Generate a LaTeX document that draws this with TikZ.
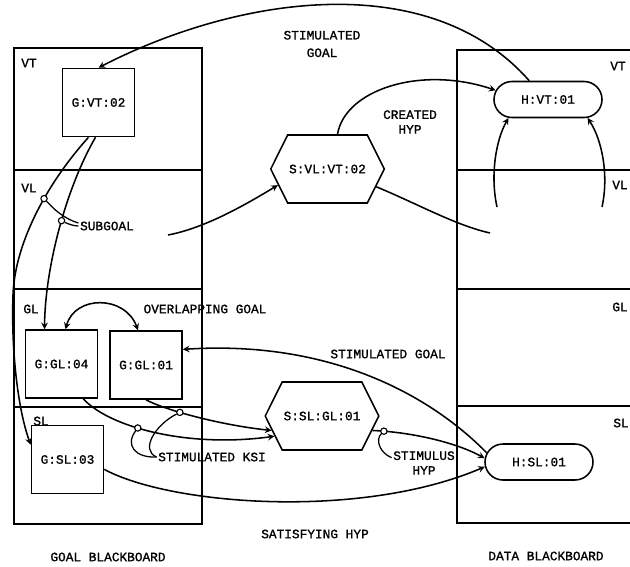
\documentclass[tikz,border=0pt]{standalone}
\usepackage{fontspec}
\setmonofont{Liberation Mono}[FakeBold=1.2]
\usetikzlibrary{calc,shapes.misc,shapes.symbols}

\begin{document}
\begin{tikzpicture}[x=0.025cm, y=-0.025cm,
    every node/.style={font=\ttfamily\fontsize{9.1}{10.5}\selectfont, inner sep=1pt},
    board/.style={line width=1.2pt},
    goalbox/.style={draw, line width=1.1pt, minimum width=1.8cm, minimum height=1.7cm},
    ksbox/.style={draw, line width=1.1pt, signal, signal to=west and east,
      signal pointer angle=127, minimum width=2.73cm, minimum height=1.7cm},
    hypbox/.style={draw, line width=1.1pt, rounded rectangle,
      minimum width=2.77cm, minimum height=0.9cm},
    conn/.style={line width=1.1pt, -stealth},
    leader/.style={line width=0.9pt},
    hook/.style={circle, draw, fill=white, line width=0.8pt, inner sep=0pt, minimum size=4.5pt}]

  \useasboundingbox (0,0) rectangle (630,566);

  % Goal blackboard
  \draw[board] (14,48) rectangle (202,524);
  \draw[board] (14,170) -- (202,170);
  \draw[board] (14,289) -- (202,289);
  \draw[board] (14,407) -- (202,407);
  \node (gvtl) at (29,63) {VT};
  \node (gvll) at (29,188) {VL};
  \node (ggll) at (31,309) {GL};
  \node (gsll) at (41,421) {SL};
  \node (goalbb) at (108,557) {GOAL BLACKBOARD};

  % Data blackboard (runs off the right edge)
  \draw[board] (632,50) -- (457,50) -- (457,523) -- (632,523);
  \draw[board] (457,170) -- (632,170);
  \draw[board] (457,289) -- (632,289);
  \draw[board] (457,406) -- (632,406);
  \node (dvtl) at (618,66) {VT};
  \node (dvll) at (620,185) {VL};
  \node (dgll) at (620,307) {GL};
  \node (dsll) at (621,423) {SL};
  \node (databb) at (546,556) {DATA BLACKBOARD};

  % Goals, KSIs and hypotheses
  \node[goalbox] (gvt) at (98.5,102.5) {G:VT:02};
  \node[goalbox] (ggl4) at (61.5,364) {G:GL:04};
  \node[goalbox] (ggl1) at (146,365) {G:GL:01};
  \node[goalbox] (gsl3) at (67.5,459.5) {G:SL:03};
  \node[ksbox] (svl) at (327.5,169) {S:VL:VT:02};
  \node[ksbox] (ssl) at (322,416) {S:SL:GL:01};
  \node[hypbox] (hvt) at (548,99.5) {H:VT:01};
  \node[hypbox] (hsl) at (539,462) {H:SL:01};

  % Stimulated goal (top)
  \draw[conn] (hvt.135) .. controls (430,-32) and (240,-5) .. (gvt.north);
  \node[align=center] (stgoal) at (322,44) {STIMULATED\\[2pt]GOAL};

  % Created hypothesis
  \draw[conn] ($(svl.north)+(10,0)$) .. controls (345,90) and (420,65) .. (hvt.170);
  \node[align=center] (crhyp) at (410,122) {CREATED\\HYP};

  % Loose ends in the VL level
  \coordinate (vlin) at (168,235);
  \coordinate (vlout) at (490,233);
  \coordinate (vlleft) at (497,207);
  \coordinate (vlright) at (602,207);
  \draw[conn] (vlin) .. controls (205,228) and (245,205) .. (svl.198);
  \draw[line width=1.1pt] (svl.-20) .. controls (420,205) and (455,225) .. (vlout);
  \draw[conn] (vlleft) .. controls (490,175) and (496,140) .. (hvt.205);
  \draw[conn] (vlright) .. controls (609,175) and (602,140) .. (hvt.-25);

  % Subgoals
  \coordinate (sgbend) at (13,295);
  \draw[conn] ($(gvt.south)+(-10,0)$) .. controls (50,180) and (15,240) .. (sgbend)
    node[hook, pos=0.42] (sgc1) {}
    .. controls (11,350) and (18,410) .. (gsl3.158);
  \draw[conn] ($(gvt.south)+(-3,0)$) .. controls (65,190) and (45,270) .. (ggl4.116)
    node[hook, pos=0.45] (sgc2) {};
  \node (subg) at (107,226) {SUBGOAL};
  \draw[leader] (sgc1) .. controls (52,207) and (62,218) .. ($(subg.west)+(0,-3)$);
  \draw[leader] (sgc2) .. controls (68,224) and (74,226) .. (subg.west);

  % Overlapping goal
  \draw[line width=1.1pt, stealth-stealth] ($(ggl4.north)+(4,0)$)
    .. controls (75,295) and (125,295) .. ($(ggl1.north)+(-8,0)$);
  \node (ovgoal) at (205,309) {OVERLAPPING GOAL};

  % Stimulated goal (lower)
  \draw[conn] (hsl.170) .. controls (430,395) and (330,340) .. (ggl1.23);
  \node (stgoal2) at (388,354) {STIMULATED GOAL};

  % Stimulated KSI
  \draw[conn] (ggl4.-58) .. controls (110,428) and (190,448) .. (ssl.203)
    node[hook, pos=0.4] (ksc1) {};
  \draw[conn] (ggl1.south) .. controls (165,410) and (220,425) .. (ssl.196)
    node[hook, pos=0.37] (ksc2) {};
  \node (ksi) at (212,457) {STIMULATED KSI};
  \draw[leader] (ksc1) .. controls (125,445) and (135,458) .. (ksi.west);
  \draw[leader] (ksc2) .. controls (155,425) and (140,450) .. (ksi.west);

  % Stimulus hypothesis
  \draw[conn] (ssl.-16) .. controls (410,432) and (455,442) .. (hsl.176)
    node[hook, pos=0.1] (shc) {};
  \node[align=center] (shyp) at (424,463) {STIMULUS\\HYP};
  \draw[leader] (shc) .. controls (375,440) and (380,453) .. ($(shyp.north west)!0.3!(shyp.south west)$);

  % Satisfying hypothesis
  \draw[conn] (gsl3.-15) .. controls (170,505) and (360,520) .. (hsl.185);
  \node (sathyp) at (315,534) {SATISFYING HYP};
\end{tikzpicture}
\end{document}
